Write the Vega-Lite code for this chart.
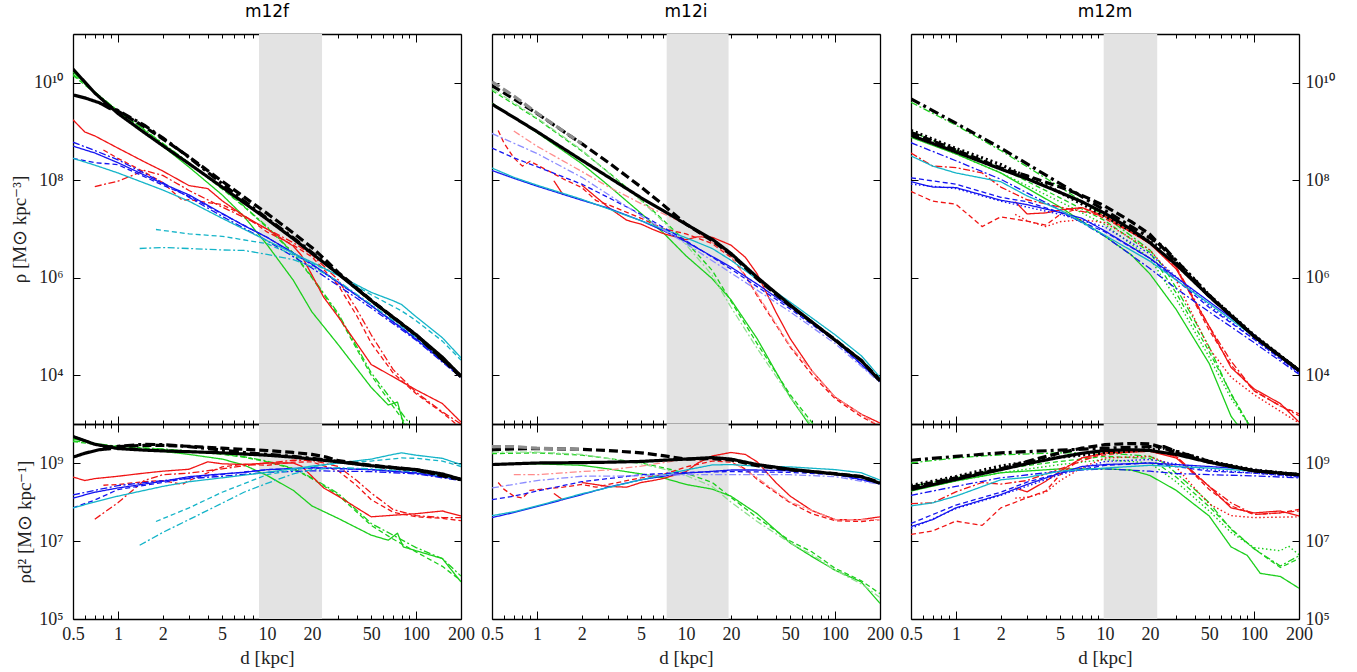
{
"$schema": "https://vega.github.io/schema/vega-lite/v6.json",
"padding": {"left": 10, "top": 2, "right": 5, "bottom": 5},
"background": "white",
"datasets": {
"bands": [{"p":"f","lo":8.84,"hi":23.4},{"p":"i","lo":7.42,"hi":19.3},{"p":"m","lo":9.8,"hi":22.4}],
"lines": [
{"p":"f","s":"g-","d":0.5,"r":10.22,"q":9.62},{"p":"f","s":"g-","d":0.7,"r":9.81,"q":9.50},{"p":"f","s":"g-","d":1,"r":9.40,"q":9.40},{"p":"f","s":"g-","d":1.5,"r":8.98,"q":9.33},{"p":"f","s":"g-","d":2,"r":8.70,"q":9.30},{"p":"f","s":"g-","d":3,"r":8.27,"q":9.22},{"p":"f","s":"g-","d":5,"r":7.70,"q":9.10},{"p":"f","s":"g-","d":7,"r":7.26,"q":8.95},{"p":"f","s":"g-","d":10,"r":6.68,"q":8.68},{"p":"f","s":"g-","d":15,"r":5.95,"q":8.30},{"p":"f","s":"g-","d":20,"r":5.30,"q":7.90},{"p":"f","s":"g-","d":30,"r":4.63,"q":7.58},{"p":"f","s":"g-","d":50,"r":3.75,"q":7.15},{"p":"f","s":"g-","d":65,"r":3.39,"q":7.02},{"p":"f","s":"g-","d":75,"r":3.45,"q":7.20},{"p":"f","s":"g-","d":82,"r":3.02,"q":6.85},{"p":"f","s":"g-","d":100,"r":2.75,"q":6.75},{"p":"f","s":"g-","d":150,"r":2.20,"q":6.55},{"p":"f","s":"g-","d":200,"r":1.35,"q":5.95},
{"p":"f","s":"g--","d":0.5,"r":10.15,"q":9.55},{"p":"f","s":"g--","d":0.7,"r":9.79,"q":9.48},{"p":"f","s":"g--","d":1,"r":9.42,"q":9.42},{"p":"f","s":"g--","d":1.5,"r":9.03,"q":9.38},{"p":"f","s":"g--","d":2,"r":8.75,"q":9.35},{"p":"f","s":"g--","d":3,"r":8.35,"q":9.30},{"p":"f","s":"g--","d":5,"r":7.82,"q":9.22},{"p":"f","s":"g--","d":7,"r":7.46,"q":9.15},{"p":"f","s":"g--","d":10,"r":7.03,"q":9.03},{"p":"f","s":"g--","d":15,"r":6.50,"q":8.85},{"p":"f","s":"g--","d":20,"r":6.00,"q":8.60},{"p":"f","s":"g--","d":30,"r":5.23,"q":8.18},{"p":"f","s":"g--","d":50,"r":4.00,"q":7.40},{"p":"f","s":"g--","d":70,"r":3.36,"q":7.05},{"p":"f","s":"g--","d":100,"r":2.72,"q":6.72},{"p":"f","s":"g--","d":150,"r":2.00,"q":6.35},{"p":"f","s":"g--","d":200,"r":1.38,"q":5.98},
{"p":"f","s":"g-.","d":0.5,"r":10.17,"q":9.57},{"p":"f","s":"g-.","d":0.7,"r":9.81,"q":9.50},{"p":"f","s":"g-.","d":1,"r":9.43,"q":9.43},{"p":"f","s":"g-.","d":1.5,"r":9.04,"q":9.39},{"p":"f","s":"g-.","d":2,"r":8.76,"q":9.36},{"p":"f","s":"g-.","d":3,"r":8.36,"q":9.31},{"p":"f","s":"g-.","d":5,"r":7.84,"q":9.24},{"p":"f","s":"g-.","d":7,"r":7.47,"q":9.16},{"p":"f","s":"g-.","d":10,"r":7.05,"q":9.05},{"p":"f","s":"g-.","d":15,"r":6.51,"q":8.86},{"p":"f","s":"g-.","d":20,"r":6.02,"q":8.62},{"p":"f","s":"g-.","d":30,"r":5.27,"q":8.22},{"p":"f","s":"g-.","d":50,"r":4.05,"q":7.45},{"p":"f","s":"g-.","d":70,"r":3.46,"q":7.15},{"p":"f","s":"g-.","d":100,"r":2.83,"q":6.83},{"p":"f","s":"g-.","d":150,"r":2.20,"q":6.55},{"p":"f","s":"g-.","d":200,"r":1.50,"q":6.10},
{"p":"f","s":"r-","d":0.5,"r":9.24,"q":8.64},{"p":"f","s":"r-","d":0.6,"r":8.99,"q":8.55},{"p":"f","s":"r-","d":0.7,"r":8.91,"q":8.60},{"p":"f","s":"r-","d":1,"r":8.66,"q":8.66},{"p":"f","s":"r-","d":1.5,"r":8.38,"q":8.74},{"p":"f","s":"r-","d":2,"r":8.19,"q":8.79},{"p":"f","s":"r-","d":3,"r":7.89,"q":8.84},{"p":"f","s":"r-","d":4,"r":7.83,"q":9.03},{"p":"f","s":"r-","d":5,"r":7.58,"q":8.98},{"p":"f","s":"r-","d":7,"r":7.27,"q":8.96},{"p":"f","s":"r-","d":10,"r":7.00,"q":9.00},{"p":"f","s":"r-","d":15,"r":6.65,"q":9.00},{"p":"f","s":"r-","d":17,"r":6.46,"q":8.92},{"p":"f","s":"r-","d":20,"r":6.06,"q":8.66},{"p":"f","s":"r-","d":24,"r":5.60,"q":8.36},{"p":"f","s":"r-","d":30,"r":5.20,"q":8.15},{"p":"f","s":"r-","d":40,"r":4.65,"q":7.85},{"p":"f","s":"r-","d":50,"r":4.22,"q":7.62},{"p":"f","s":"r-","d":70,"r":3.97,"q":7.66},{"p":"f","s":"r-","d":100,"r":3.70,"q":7.70},{"p":"f","s":"r-","d":150,"r":3.42,"q":7.77},{"p":"f","s":"r-","d":200,"r":3.04,"q":7.64},
{"p":"f","s":"r--","d":0.8,"r":8.62,"q":8.43},{"p":"f","s":"r--","d":1,"r":8.45,"q":8.45},{"p":"f","s":"r--","d":1.5,"r":8.17,"q":8.52},{"p":"f","s":"r--","d":2,"r":7.95,"q":8.55},{"p":"f","s":"r--","d":2.7,"r":7.59,"q":8.45},{"p":"f","s":"r--","d":3,"r":7.60,"q":8.55},{"p":"f","s":"r--","d":5,"r":7.50,"q":8.90},{"p":"f","s":"r--","d":7,"r":7.28,"q":8.97},{"p":"f","s":"r--","d":10,"r":6.94,"q":8.94},{"p":"f","s":"r--","d":15,"r":6.67,"q":9.02},{"p":"f","s":"r--","d":20,"r":6.43,"q":9.03},{"p":"f","s":"r--","d":30,"r":5.85,"q":8.80},{"p":"f","s":"r--","d":40,"r":5.22,"q":8.42},{"p":"f","s":"r--","d":50,"r":4.66,"q":8.06},{"p":"f","s":"r--","d":70,"r":4.05,"q":7.74},{"p":"f","s":"r--","d":100,"r":3.62,"q":7.62},{"p":"f","s":"r--","d":150,"r":3.23,"q":7.58},{"p":"f","s":"r--","d":200,"r":2.92,"q":7.52},
{"p":"f","s":"r-.","d":0.7,"r":7.87,"q":7.56},{"p":"f","s":"r-.","d":1,"r":7.98,"q":7.98},{"p":"f","s":"r-.","d":1.3,"r":8.12,"q":8.35},{"p":"f","s":"r-.","d":1.5,"r":8.20,"q":8.55},{"p":"f","s":"r-.","d":2,"r":8.10,"q":8.70},{"p":"f","s":"r-.","d":3,"r":7.79,"q":8.74},{"p":"f","s":"r-.","d":5,"r":7.45,"q":8.85},{"p":"f","s":"r-.","d":7,"r":7.24,"q":8.93},{"p":"f","s":"r-.","d":10,"r":7.00,"q":9.00},{"p":"f","s":"r-.","d":15,"r":6.72,"q":9.07},{"p":"f","s":"r-.","d":20,"r":6.47,"q":9.07},{"p":"f","s":"r-.","d":30,"r":5.96,"q":8.91},{"p":"f","s":"r-.","d":40,"r":5.35,"q":8.55},{"p":"f","s":"r-.","d":50,"r":4.83,"q":8.23},{"p":"f","s":"r-.","d":70,"r":4.12,"q":7.81},{"p":"f","s":"r-.","d":100,"r":3.65,"q":7.65},{"p":"f","s":"r-.","d":150,"r":3.25,"q":7.60},{"p":"f","s":"r-.","d":200,"r":3.00,"q":7.60},
{"p":"f","s":"b-","d":0.5,"r":8.70,"q":8.10},{"p":"f","s":"b-","d":0.7,"r":8.56,"q":8.25},{"p":"f","s":"b-","d":1,"r":8.36,"q":8.36},{"p":"f","s":"b-","d":2,"r":7.93,"q":8.53},{"p":"f","s":"b-","d":3,"r":7.70,"q":8.65},{"p":"f","s":"b-","d":5,"r":7.32,"q":8.72},{"p":"f","s":"b-","d":7,"r":7.07,"q":8.76},{"p":"f","s":"b-","d":10,"r":6.83,"q":8.83},{"p":"f","s":"b-","d":15,"r":6.51,"q":8.86},{"p":"f","s":"b-","d":20,"r":6.28,"q":8.88},{"p":"f","s":"b-","d":30,"r":5.91,"q":8.86},{"p":"f","s":"b-","d":50,"r":5.43,"q":8.83},{"p":"f","s":"b-","d":100,"r":4.74,"q":8.74},{"p":"f","s":"b-","d":200,"r":3.97,"q":8.57},
{"p":"f","s":"b--","d":0.5,"r":8.45,"q":7.85},{"p":"f","s":"b--","d":0.7,"r":8.36,"q":8.05},{"p":"f","s":"b--","d":1,"r":8.32,"q":8.32},{"p":"f","s":"b--","d":2,"r":7.90,"q":8.50},{"p":"f","s":"b--","d":3,"r":7.67,"q":8.62},{"p":"f","s":"b--","d":5,"r":7.31,"q":8.71},{"p":"f","s":"b--","d":10,"r":6.83,"q":8.83},{"p":"f","s":"b--","d":20,"r":6.27,"q":8.87},{"p":"f","s":"b--","d":50,"r":5.43,"q":8.83},{"p":"f","s":"b--","d":100,"r":4.76,"q":8.76},{"p":"f","s":"b--","d":200,"r":3.99,"q":8.59},
{"p":"f","s":"b-.","d":0.5,"r":8.78,"q":8.18},{"p":"f","s":"b-.","d":0.7,"r":8.61,"q":8.30},{"p":"f","s":"b-.","d":1,"r":8.42,"q":8.42},{"p":"f","s":"b-.","d":2,"r":7.95,"q":8.55},{"p":"f","s":"b-.","d":3,"r":7.65,"q":8.60},{"p":"f","s":"b-.","d":5,"r":7.26,"q":8.66},{"p":"f","s":"b-.","d":10,"r":6.76,"q":8.76},{"p":"f","s":"b-.","d":20,"r":6.20,"q":8.80},{"p":"f","s":"b-.","d":50,"r":5.38,"q":8.78},{"p":"f","s":"b-.","d":100,"r":4.72,"q":8.72},{"p":"f","s":"b-.","d":200,"r":3.95,"q":8.55},
{"p":"f","s":"c-","d":0.5,"r":8.45,"q":7.85},{"p":"f","s":"c-","d":0.7,"r":8.31,"q":8.00},{"p":"f","s":"c-","d":1,"r":8.15,"q":8.15},{"p":"f","s":"c-","d":2,"r":7.80,"q":8.40},{"p":"f","s":"c-","d":3,"r":7.57,"q":8.52},{"p":"f","s":"c-","d":5,"r":7.22,"q":8.62},{"p":"f","s":"c-","d":10,"r":6.76,"q":8.76},{"p":"f","s":"c-","d":20,"r":6.32,"q":8.92},{"p":"f","s":"c-","d":30,"r":6.05,"q":9.00},{"p":"f","s":"c-","d":50,"r":5.70,"q":9.10},{"p":"f","s":"c-","d":70,"r":5.53,"q":9.22},{"p":"f","s":"c-","d":80,"r":5.45,"q":9.26},{"p":"f","s":"c-","d":100,"r":5.20,"q":9.20},{"p":"f","s":"c-","d":150,"r":4.77,"q":9.12},{"p":"f","s":"c-","d":200,"r":4.36,"q":8.96},
{"p":"f","s":"c--","d":1.8,"r":6.99,"q":7.50},{"p":"f","s":"c--","d":3,"r":6.90,"q":7.85},{"p":"f","s":"c--","d":5,"r":6.85,"q":8.25},{"p":"f","s":"c--","d":10,"r":6.70,"q":8.70},{"p":"f","s":"c--","d":20,"r":6.30,"q":8.90},{"p":"f","s":"c--","d":30,"r":6.05,"q":9.00},{"p":"f","s":"c--","d":50,"r":5.65,"q":9.05},{"p":"f","s":"c--","d":80,"r":5.32,"q":9.13},{"p":"f","s":"c--","d":100,"r":5.12,"q":9.12},{"p":"f","s":"c--","d":150,"r":4.70,"q":9.05},{"p":"f","s":"c--","d":200,"r":4.31,"q":8.91},
{"p":"f","s":"c-.","d":1.4,"r":6.60,"q":6.89},{"p":"f","s":"c-.","d":2,"r":6.62,"q":7.22},{"p":"f","s":"c-.","d":3,"r":6.60,"q":7.55},{"p":"f","s":"c-.","d":5,"r":6.57,"q":7.97},{"p":"f","s":"c-.","d":7,"r":6.56,"q":8.25},{"p":"f","s":"c-.","d":10,"r":6.48,"q":8.48},{"p":"f","s":"c-.","d":15,"r":6.37,"q":8.72},{"p":"f","s":"c-.","d":20,"r":6.23,"q":8.83},{"p":"f","s":"c-.","d":30,"r":5.93,"q":8.88},{"p":"f","s":"c-.","d":50,"r":5.45,"q":8.85},{"p":"f","s":"c-.","d":100,"r":4.78,"q":8.78},{"p":"f","s":"c-.","d":200,"r":3.98,"q":8.58},
{"p":"f","s":"k-","d":0.5,"r":10.28,"q":9.68},{"p":"f","s":"k-","d":0.7,"r":9.79,"q":9.48},{"p":"f","s":"k-","d":1,"r":9.37,"q":9.37},{"p":"f","s":"k-","d":1.5,"r":8.98,"q":9.33},{"p":"f","s":"k-","d":2,"r":8.71,"q":9.31},{"p":"f","s":"k-","d":3,"r":8.34,"q":9.29},{"p":"f","s":"k-","d":5,"r":7.86,"q":9.26},{"p":"f","s":"k-","d":7,"r":7.54,"q":9.23},{"p":"f","s":"k-","d":10,"r":7.20,"q":9.20},{"p":"f","s":"k-","d":15,"r":6.80,"q":9.15},{"p":"f","s":"k-","d":20,"r":6.50,"q":9.10},{"p":"f","s":"k-","d":30,"r":6.08,"q":9.03},{"p":"f","s":"k-","d":50,"r":5.53,"q":8.93},{"p":"f","s":"k-","d":70,"r":5.19,"q":8.88},{"p":"f","s":"k-","d":100,"r":4.83,"q":8.83},{"p":"f","s":"k-","d":150,"r":4.37,"q":8.72},{"p":"f","s":"k-","d":200,"r":3.98,"q":8.58},
{"p":"f","s":"k2","d":0.5,"r":9.75,"q":9.15},{"p":"f","s":"k2","d":0.6,"r":9.69,"q":9.25},{"p":"f","s":"k2","d":0.75,"r":9.59,"q":9.34},{"p":"f","s":"k2","d":0.9,"r":9.46,"q":9.37},
{"p":"f","s":"k--","d":0.8,"r":9.59,"q":9.40},{"p":"f","s":"k--","d":1,"r":9.42,"q":9.42},{"p":"f","s":"k--","d":1.5,"r":9.10,"q":9.45},{"p":"f","s":"k--","d":2,"r":8.85,"q":9.45},{"p":"f","s":"k--","d":3,"r":8.48,"q":9.43},{"p":"f","s":"k--","d":5,"r":7.98,"q":9.38},{"p":"f","s":"k--","d":7,"r":7.66,"q":9.35},{"p":"f","s":"k--","d":10,"r":7.32,"q":9.32},{"p":"f","s":"k--","d":15,"r":6.92,"q":9.27},{"p":"f","s":"k--","d":20,"r":6.62,"q":9.22},{"p":"f","s":"k--","d":25,"r":6.35,"q":9.15},{"p":"f","s":"k--","d":30,"r":6.11,"q":9.06},{"p":"f","s":"k--","d":50,"r":5.54,"q":8.94},{"p":"f","s":"k--","d":100,"r":4.83,"q":8.83},{"p":"f","s":"k--","d":200,"r":3.98,"q":8.58},
{"p":"f","s":"k-.","d":0.8,"r":9.57,"q":9.38},{"p":"f","s":"k-.","d":1,"r":9.43,"q":9.43},{"p":"f","s":"k-.","d":1.5,"r":9.13,"q":9.48},{"p":"f","s":"k-.","d":2,"r":8.87,"q":9.47},{"p":"f","s":"k-.","d":3,"r":8.47,"q":9.42},{"p":"f","s":"k-.","d":5,"r":7.93,"q":9.33},{"p":"f","s":"k-.","d":7,"r":7.58,"q":9.27},{"p":"f","s":"k-.","d":10,"r":7.22,"q":9.22},{"p":"f","s":"k-.","d":15,"r":6.82,"q":9.17},{"p":"f","s":"k-.","d":20,"r":6.52,"q":9.12},{"p":"f","s":"k-.","d":30,"r":6.09,"q":9.04},{"p":"f","s":"k-.","d":50,"r":5.53,"q":8.93},{"p":"f","s":"k-.","d":100,"r":4.82,"q":8.82},{"p":"f","s":"k-.","d":200,"r":3.97,"q":8.57},

{"p":"i","s":"g-","d":0.5,"r":9.58,"q":8.98},{"p":"i","s":"g-","d":0.7,"r":9.29,"q":8.98},{"p":"i","s":"g-","d":1,"r":8.98,"q":8.98},{"p":"i","s":"g-","d":2,"r":8.34,"q":8.94},{"p":"i","s":"g-","d":3,"r":7.90,"q":8.85},{"p":"i","s":"g-","d":5,"r":7.32,"q":8.72},{"p":"i","s":"g-","d":7,"r":6.93,"q":8.62},{"p":"i","s":"g-","d":10,"r":6.45,"q":8.45},{"p":"i","s":"g-","d":15,"r":5.98,"q":8.33},{"p":"i","s":"g-","d":20,"r":5.55,"q":8.15},{"p":"i","s":"g-","d":30,"r":4.75,"q":7.70},{"p":"i","s":"g-","d":50,"r":3.55,"q":6.95},{"p":"i","s":"g-","d":70,"r":2.91,"q":6.60},{"p":"i","s":"g-","d":100,"r":2.25,"q":6.25},{"p":"i","s":"g-","d":150,"r":1.60,"q":5.95},{"p":"i","s":"g-","d":200,"r":0.80,"q":5.40},
{"p":"i","s":"g--","d":0.5,"r":9.84,"q":9.24},{"p":"i","s":"g--","d":0.7,"r":9.56,"q":9.25},{"p":"i","s":"g--","d":1,"r":9.26,"q":9.26},{"p":"i","s":"g--","d":2,"r":8.60,"q":9.20},{"p":"i","s":"g--","d":3,"r":8.17,"q":9.12},{"p":"i","s":"g--","d":5,"r":7.60,"q":9.00},{"p":"i","s":"g--","d":7,"r":7.19,"q":8.88},{"p":"i","s":"g--","d":10,"r":6.74,"q":8.74},{"p":"i","s":"g--","d":15,"r":6.15,"q":8.50},{"p":"i","s":"g--","d":20,"r":5.52,"q":8.12},{"p":"i","s":"g--","d":30,"r":4.65,"q":7.60},{"p":"i","s":"g--","d":50,"r":3.60,"q":7.00},{"p":"i","s":"g--","d":70,"r":3.03,"q":6.72},{"p":"i","s":"g--","d":100,"r":2.30,"q":6.30},{"p":"i","s":"g--","d":150,"r":1.63,"q":5.98},{"p":"i","s":"g--","d":200,"r":1.05,"q":5.65},
{"p":"i","s":"lg-.","d":0.5,"r":9.88,"q":9.28},{"p":"i","s":"lg-.","d":1,"r":9.28,"q":9.28},{"p":"i","s":"lg-.","d":2,"r":8.62,"q":9.22},{"p":"i","s":"lg-.","d":5,"r":7.58,"q":8.98},{"p":"i","s":"lg-.","d":7,"r":7.16,"q":8.85},{"p":"i","s":"lg-.","d":10,"r":6.68,"q":8.68},{"p":"i","s":"lg-.","d":15,"r":6.05,"q":8.40},{"p":"i","s":"lg-.","d":20,"r":5.40,"q":8.00},{"p":"i","s":"lg-.","d":30,"r":4.55,"q":7.50},{"p":"i","s":"lg-.","d":50,"r":3.55,"q":6.95},{"p":"i","s":"lg-.","d":70,"r":2.96,"q":6.65},{"p":"i","s":"lg-.","d":100,"r":2.25,"q":6.25},{"p":"i","s":"lg-.","d":150,"r":1.55,"q":5.90},{"p":"i","s":"lg-.","d":200,"r":0.95,"q":5.55},
{"p":"i","s":"r-","d":2,"r":7.90,"q":8.50},{"p":"i","s":"r-","d":3,"r":7.45,"q":8.40},{"p":"i","s":"r-","d":4,"r":7.18,"q":8.38},{"p":"i","s":"r-","d":5,"r":7.10,"q":8.50},{"p":"i","s":"r-","d":6,"r":6.99,"q":8.55},{"p":"i","s":"r-","d":7,"r":6.91,"q":8.60},{"p":"i","s":"r-","d":10,"r":6.78,"q":8.78},{"p":"i","s":"r-","d":12,"r":6.84,"q":9.00},{"p":"i","s":"r-","d":15,"r":6.83,"q":9.18},{"p":"i","s":"r-","d":20,"r":6.67,"q":9.27},{"p":"i","s":"r-","d":25,"r":6.42,"q":9.22},{"p":"i","s":"r-","d":30,"r":6.08,"q":9.03},{"p":"i","s":"r-","d":40,"r":5.30,"q":8.50},{"p":"i","s":"r-","d":50,"r":4.75,"q":8.15},{"p":"i","s":"r-","d":70,"r":4.09,"q":7.78},{"p":"i","s":"r-","d":100,"r":3.55,"q":7.55},{"p":"i","s":"r-","d":150,"r":3.20,"q":7.55},{"p":"i","s":"r-","d":200,"r":3.02,"q":7.62},
{"p":"i","s":"r2","d":1.3,"r":7.99,"q":8.22},{"p":"i","s":"r2","d":1.5,"r":7.70,"q":8.05},
{"p":"i","s":"r--","d":0.55,"r":9.02,"q":8.50},{"p":"i","s":"r--","d":0.6,"r":8.77,"q":8.33},{"p":"i","s":"r--","d":0.7,"r":8.46,"q":8.15},{"p":"i","s":"r--","d":0.8,"r":8.29,"q":8.10},{"p":"i","s":"r--","d":0.9,"r":8.39,"q":8.30},{"p":"i","s":"r--","d":1.1,"r":8.25,"q":8.33},{"p":"i","s":"r--","d":1.5,"r":8.03,"q":8.38},{"p":"i","s":"r--","d":2,"r":7.85,"q":8.45},{"p":"i","s":"r--","d":2.5,"r":7.58,"q":8.38},{"p":"i","s":"r--","d":3,"r":7.50,"q":8.45},{"p":"i","s":"r--","d":5,"r":7.22,"q":8.62},{"p":"i","s":"r--","d":7,"r":7.01,"q":8.70},{"p":"i","s":"r--","d":10,"r":6.90,"q":8.90},{"p":"i","s":"r--","d":15,"r":6.70,"q":9.05},{"p":"i","s":"r--","d":20,"r":6.42,"q":9.02},{"p":"i","s":"r--","d":25,"r":6.05,"q":8.85},{"p":"i","s":"r--","d":30,"r":5.63,"q":8.58},{"p":"i","s":"r--","d":50,"r":4.58,"q":7.98},{"p":"i","s":"r--","d":70,"r":4.01,"q":7.70},{"p":"i","s":"r--","d":100,"r":3.52,"q":7.52},{"p":"i","s":"r--","d":150,"r":3.15,"q":7.50},{"p":"i","s":"r--","d":200,"r":2.95,"q":7.55},
{"p":"i","s":"lr-.","d":0.7,"r":9.01,"q":8.70},{"p":"i","s":"lr-.","d":1,"r":8.70,"q":8.70},{"p":"i","s":"lr-.","d":2,"r":8.18,"q":8.78},{"p":"i","s":"lr-.","d":3,"r":7.87,"q":8.82},{"p":"i","s":"lr-.","d":5,"r":7.52,"q":8.92},{"p":"i","s":"lr-.","d":10,"r":7.10,"q":9.10},{"p":"i","s":"lr-.","d":20,"r":6.45,"q":9.05},{"p":"i","s":"lr-.","d":30,"r":5.67,"q":8.62},{"p":"i","s":"lr-.","d":50,"r":4.60,"q":8.00},{"p":"i","s":"lr-.","d":100,"r":3.55,"q":7.55},{"p":"i","s":"lr-.","d":200,"r":2.95,"q":7.55},
{"p":"i","s":"b-","d":0.5,"r":8.20,"q":7.60},{"p":"i","s":"b-","d":0.7,"r":8.04,"q":7.73},{"p":"i","s":"b-","d":1,"r":7.88,"q":7.88},{"p":"i","s":"b-","d":2,"r":7.59,"q":8.19},{"p":"i","s":"b-","d":3,"r":7.43,"q":8.38},{"p":"i","s":"b-","d":5,"r":7.17,"q":8.57},{"p":"i","s":"b-","d":7,"r":6.97,"q":8.66},{"p":"i","s":"b-","d":10,"r":6.74,"q":8.74},{"p":"i","s":"b-","d":20,"r":6.22,"q":8.82},{"p":"i","s":"b-","d":30,"r":5.87,"q":8.82},{"p":"i","s":"b-","d":50,"r":5.40,"q":8.80},{"p":"i","s":"b-","d":100,"r":4.72,"q":8.72},{"p":"i","s":"b-","d":200,"r":3.87,"q":8.47},
{"p":"i","s":"c-","d":0.5,"r":8.25,"q":7.65},{"p":"i","s":"c-","d":0.7,"r":8.06,"q":7.75},{"p":"i","s":"c-","d":1,"r":7.90,"q":7.90},{"p":"i","s":"c-","d":2,"r":7.61,"q":8.21},{"p":"i","s":"c-","d":5,"r":7.17,"q":8.57},{"p":"i","s":"c-","d":10,"r":6.82,"q":8.82},{"p":"i","s":"c-","d":15,"r":6.60,"q":8.95},{"p":"i","s":"c-","d":20,"r":6.36,"q":8.96},{"p":"i","s":"c-","d":30,"r":5.97,"q":8.92},{"p":"i","s":"c-","d":50,"r":5.50,"q":8.90},{"p":"i","s":"c-","d":100,"r":4.83,"q":8.83},{"p":"i","s":"c-","d":150,"r":4.40,"q":8.75},{"p":"i","s":"c-","d":200,"r":3.96,"q":8.56},
{"p":"i","s":"b--","d":0.5,"r":8.66,"q":8.06},{"p":"i","s":"b--","d":0.7,"r":8.46,"q":8.15},{"p":"i","s":"b--","d":1,"r":8.28,"q":8.28},{"p":"i","s":"b--","d":2,"r":7.92,"q":8.52},{"p":"i","s":"b--","d":3,"r":7.65,"q":8.60},{"p":"i","s":"b--","d":5,"r":7.30,"q":8.70},{"p":"i","s":"b--","d":10,"r":6.76,"q":8.76},{"p":"i","s":"b--","d":20,"r":6.18,"q":8.78},{"p":"i","s":"b--","d":50,"r":5.36,"q":8.76},{"p":"i","s":"b--","d":100,"r":4.70,"q":8.70},{"p":"i","s":"b--","d":200,"r":3.87,"q":8.47},
{"p":"i","s":"lb-.","d":0.5,"r":8.96,"q":8.36},{"p":"i","s":"lb-.","d":1,"r":8.55,"q":8.55},{"p":"i","s":"lb-.","d":2,"r":8.06,"q":8.66},{"p":"i","s":"lb-.","d":5,"r":7.27,"q":8.67},{"p":"i","s":"lb-.","d":10,"r":6.70,"q":8.70},{"p":"i","s":"lb-.","d":20,"r":6.10,"q":8.70},{"p":"i","s":"lb-.","d":50,"r":5.30,"q":8.70},{"p":"i","s":"lb-.","d":100,"r":4.65,"q":8.65},{"p":"i","s":"lb-.","d":200,"r":3.85,"q":8.45},
{"p":"i","s":"k--","d":0.5,"r":9.94,"q":9.34},{"p":"i","s":"k--","d":0.7,"r":9.67,"q":9.36},{"p":"i","s":"k--","d":1,"r":9.37,"q":9.37},{"p":"i","s":"k--","d":2,"r":8.75,"q":9.35},{"p":"i","s":"k--","d":3,"r":8.37,"q":9.32},{"p":"i","s":"k--","d":5,"r":7.86,"q":9.26},{"p":"i","s":"k--","d":7,"r":7.50,"q":9.19},{"p":"i","s":"k--","d":10,"r":7.10,"q":9.10},{"p":"i","s":"k--","d":15,"r":6.76,"q":9.11},{"p":"i","s":"k--","d":20,"r":6.48,"q":9.08},{"p":"i","s":"k--","d":30,"r":5.98,"q":8.93},{"p":"i","s":"k--","d":50,"r":5.42,"q":8.82},{"p":"i","s":"k--","d":100,"r":4.73,"q":8.73},{"p":"i","s":"k--","d":150,"r":4.30,"q":8.65},{"p":"i","s":"k--","d":200,"r":3.90,"q":8.50},
{"p":"i","s":"k-","d":0.5,"r":9.56,"q":8.96},{"p":"i","s":"k-","d":0.7,"r":9.29,"q":8.98},{"p":"i","s":"k-","d":1,"r":9.00,"q":9.00},{"p":"i","s":"k-","d":2,"r":8.41,"q":9.01},{"p":"i","s":"k-","d":3,"r":8.07,"q":9.02},{"p":"i","s":"k-","d":5,"r":7.64,"q":9.04},{"p":"i","s":"k-","d":7,"r":7.38,"q":9.07},{"p":"i","s":"k-","d":10,"r":7.10,"q":9.10},{"p":"i","s":"k-","d":15,"r":6.79,"q":9.14},{"p":"i","s":"k-","d":20,"r":6.50,"q":9.10},{"p":"i","s":"k-","d":30,"r":6.01,"q":8.96},{"p":"i","s":"k-","d":50,"r":5.44,"q":8.84},{"p":"i","s":"k-","d":100,"r":4.72,"q":8.72},{"p":"i","s":"k-","d":150,"r":4.30,"q":8.65},{"p":"i","s":"k-","d":200,"r":3.88,"q":8.48},
{"p":"i","s":"gr--","d":0.5,"r":10.02,"q":9.42},{"p":"i","s":"gr--","d":0.7,"r":9.73,"q":9.42},{"p":"i","s":"gr--","d":1,"r":9.38,"q":9.38},{"p":"i","s":"gr--","d":1.5,"r":9.01,"q":9.36},{"p":"i","s":"gr--","d":2,"r":8.75,"q":9.35},

{"p":"m","s":"g-.","d":0.5,"r":9.60,"q":9.00},{"p":"m","s":"g-.","d":1,"r":9.13,"q":9.13},{"p":"m","s":"g-.","d":2,"r":8.61,"q":9.21},{"p":"m","s":"g-.","d":5,"r":7.86,"q":9.26},{"p":"m","s":"g-.","d":10,"r":7.26,"q":9.26},{"p":"m","s":"g-.","d":20,"r":6.57,"q":9.17},{"p":"m","s":"g-.","d":25,"r":6.20,"q":9.00},{"p":"m","s":"g-.","d":30,"r":5.79,"q":8.74},{"p":"m","s":"g-.","d":40,"r":5.12,"q":8.32},{"p":"m","s":"g-.","d":50,"r":4.58,"q":7.98},{"p":"m","s":"g-.","d":70,"r":3.61,"q":7.30},{"p":"m","s":"g-.","d":100,"r":2.80,"q":6.80},{"p":"m","s":"g-.","d":150,"r":2.01,"q":6.36},{"p":"m","s":"g-.","d":200,"r":2.02,"q":6.62},
{"p":"m","s":"g-","d":0.5,"r":8.88,"q":8.28},{"p":"m","s":"g-","d":1,"r":8.54,"q":8.54},{"p":"m","s":"g-","d":2,"r":8.15,"q":8.75},{"p":"m","s":"g-","d":5,"r":7.45,"q":8.85},{"p":"m","s":"g-","d":10,"r":6.85,"q":8.85},{"p":"m","s":"g-","d":15,"r":6.47,"q":8.82},{"p":"m","s":"g-","d":20,"r":6.08,"q":8.68},{"p":"m","s":"g-","d":30,"r":5.35,"q":8.30},{"p":"m","s":"g-","d":50,"r":4.24,"q":7.64},{"p":"m","s":"g-","d":70,"r":3.16,"q":6.85},{"p":"m","s":"g-","d":90,"r":2.72,"q":6.63},{"p":"m","s":"g-","d":110,"r":2.09,"q":6.17},{"p":"m","s":"g-","d":150,"r":1.74,"q":6.09},{"p":"m","s":"g-","d":200,"r":1.19,"q":5.79},
{"p":"m","s":"g--","d":0.5,"r":9.00,"q":8.40},{"p":"m","s":"g--","d":1,"r":8.62,"q":8.62},{"p":"m","s":"g--","d":2,"r":8.25,"q":8.85},{"p":"m","s":"g--","d":5,"r":7.64,"q":9.04},{"p":"m","s":"g--","d":10,"r":7.17,"q":9.17},{"p":"m","s":"g--","d":20,"r":6.52,"q":9.12},{"p":"m","s":"g--","d":30,"r":5.69,"q":8.64},{"p":"m","s":"g--","d":50,"r":4.48,"q":7.88},{"p":"m","s":"g--","d":70,"r":3.63,"q":7.32},{"p":"m","s":"g--","d":100,"r":2.80,"q":6.80},{"p":"m","s":"g--","d":150,"r":1.97,"q":6.32},{"p":"m","s":"g--","d":200,"r":1.95,"q":6.55},
{"p":"m","s":"g:","d":0.5,"r":8.92,"q":8.32},{"p":"m","s":"g:","d":1,"r":8.54,"q":8.54},{"p":"m","s":"g:","d":2,"r":8.15,"q":8.75},{"p":"m","s":"g:","d":5,"r":7.56,"q":8.96},{"p":"m","s":"g:","d":10,"r":7.09,"q":9.09},{"p":"m","s":"g:","d":20,"r":6.40,"q":9.00},{"p":"m","s":"g:","d":30,"r":5.57,"q":8.52},{"p":"m","s":"g:","d":50,"r":4.37,"q":7.77},{"p":"m","s":"g:","d":70,"r":3.53,"q":7.22},{"p":"m","s":"g:","d":100,"r":2.83,"q":6.83},{"p":"m","s":"g:","d":150,"r":2.40,"q":6.75},{"p":"m","s":"g:","d":170,"r":2.41,"q":6.87},{"p":"m","s":"g:","d":200,"r":2.05,"q":6.65},
{"p":"m","s":"r-.","d":0.5,"r":8.56,"q":7.96},{"p":"m","s":"r-.","d":0.7,"r":8.29,"q":7.98},{"p":"m","s":"r-.","d":1,"r":8.26,"q":8.26},{"p":"m","s":"r-.","d":1.5,"r":8.15,"q":8.50},{"p":"m","s":"r-.","d":2,"r":7.86,"q":8.46},{"p":"m","s":"r-.","d":3,"r":7.60,"q":8.55},{"p":"m","s":"r-.","d":5,"r":7.45,"q":8.85},{"p":"m","s":"r-.","d":7,"r":7.36,"q":9.05},{"p":"m","s":"r-.","d":10,"r":7.26,"q":9.26},{"p":"m","s":"r-.","d":20,"r":6.70,"q":9.30},{"p":"m","s":"r-.","d":30,"r":6.22,"q":9.17},{"p":"m","s":"r-.","d":40,"r":5.54,"q":8.74},{"p":"m","s":"r-.","d":50,"r":5.00,"q":8.40},{"p":"m","s":"r-.","d":70,"r":4.29,"q":7.98},{"p":"m","s":"r-.","d":100,"r":3.68,"q":7.68},{"p":"m","s":"r-.","d":150,"r":3.37,"q":7.72},{"p":"m","s":"r-.","d":200,"r":3.17,"q":7.77},
{"p":"m","s":"r-","d":2.5,"r":7.56,"q":8.36},{"p":"m","s":"r-","d":3,"r":7.31,"q":8.26},{"p":"m","s":"r-","d":4,"r":7.33,"q":8.53},{"p":"m","s":"r-","d":5,"r":7.39,"q":8.79},{"p":"m","s":"r-","d":7,"r":7.44,"q":9.13},{"p":"m","s":"r-","d":10,"r":7.26,"q":9.26},{"p":"m","s":"r-","d":20,"r":6.70,"q":9.30},{"p":"m","s":"r-","d":30,"r":6.18,"q":9.13},{"p":"m","s":"r-","d":50,"r":5.00,"q":8.40},{"p":"m","s":"r-","d":70,"r":4.16,"q":7.85},{"p":"m","s":"r-","d":100,"r":3.72,"q":7.72},{"p":"m","s":"r-","d":150,"r":3.42,"q":7.77},{"p":"m","s":"r-","d":200,"r":3.04,"q":7.64},
{"p":"m","s":"r--","d":0.5,"r":7.77,"q":7.17},{"p":"m","s":"r--","d":0.7,"r":7.57,"q":7.26},{"p":"m","s":"r--","d":1,"r":7.51,"q":7.51},{"p":"m","s":"r--","d":1.5,"r":7.05,"q":7.40},{"p":"m","s":"r--","d":2,"r":7.25,"q":7.85},{"p":"m","s":"r--","d":3,"r":7.16,"q":8.11},{"p":"m","s":"r--","d":4,"r":7.08,"q":8.28},{"p":"m","s":"r--","d":5,"r":7.30,"q":8.70},{"p":"m","s":"r--","d":7,"r":7.44,"q":9.13},{"p":"m","s":"r--","d":10,"r":7.21,"q":9.21},{"p":"m","s":"r--","d":20,"r":6.74,"q":9.34},{"p":"m","s":"r--","d":30,"r":6.22,"q":9.17},{"p":"m","s":"r--","d":50,"r":4.92,"q":8.32},{"p":"m","s":"r--","d":70,"r":4.21,"q":7.90},{"p":"m","s":"r--","d":100,"r":3.68,"q":7.68},{"p":"m","s":"r--","d":150,"r":3.37,"q":7.72},{"p":"m","s":"r--","d":200,"r":3.21,"q":7.81},
{"p":"m","s":"r:","d":2.5,"r":7.30,"q":8.10},{"p":"m","s":"r:","d":3,"r":7.17,"q":8.12},{"p":"m","s":"r:","d":4,"r":7.05,"q":8.25},{"p":"m","s":"r:","d":5,"r":7.15,"q":8.55},{"p":"m","s":"r:","d":7,"r":7.19,"q":8.88},{"p":"m","s":"r:","d":10,"r":7.13,"q":9.13},{"p":"m","s":"r:","d":20,"r":6.57,"q":9.17},{"p":"m","s":"r:","d":30,"r":5.95,"q":8.90},{"p":"m","s":"r:","d":40,"r":5.15,"q":8.35},{"p":"m","s":"r:","d":50,"r":4.55,"q":7.95},{"p":"m","s":"r:","d":70,"r":3.96,"q":7.65},{"p":"m","s":"r:","d":100,"r":3.60,"q":7.60},{"p":"m","s":"r:","d":200,"r":3.02,"q":7.62},
{"p":"m","s":"b-","d":0.5,"r":7.97,"q":7.37},{"p":"m","s":"b-","d":0.7,"r":7.86,"q":7.55},{"p":"m","s":"b-","d":1,"r":7.85,"q":7.85},{"p":"m","s":"b-","d":2,"r":7.59,"q":8.19},{"p":"m","s":"b-","d":3,"r":7.50,"q":8.45},{"p":"m","s":"b-","d":5,"r":7.34,"q":8.74},{"p":"m","s":"b-","d":7,"r":7.22,"q":8.91},{"p":"m","s":"b-","d":10,"r":6.96,"q":8.96},{"p":"m","s":"b-","d":20,"r":6.40,"q":9.00},{"p":"m","s":"b-","d":30,"r":6.01,"q":8.96},{"p":"m","s":"b-","d":50,"r":5.51,"q":8.91},{"p":"m","s":"b-","d":100,"r":4.83,"q":8.83},{"p":"m","s":"b-","d":200,"r":4.06,"q":8.66},
{"p":"m","s":"b:","d":0.5,"r":7.92,"q":7.32},{"p":"m","s":"b:","d":1,"r":7.83,"q":7.83},{"p":"m","s":"b:","d":2,"r":7.57,"q":8.17},{"p":"m","s":"b:","d":5,"r":7.30,"q":8.70},{"p":"m","s":"b:","d":10,"r":7.04,"q":9.04},{"p":"m","s":"b:","d":20,"r":6.49,"q":9.09},{"p":"m","s":"b:","d":50,"r":5.43,"q":8.83},{"p":"m","s":"b:","d":100,"r":4.74,"q":8.74},{"p":"m","s":"b:","d":200,"r":4.04,"q":8.64},
{"p":"m","s":"b--","d":0.5,"r":8.05,"q":7.45},{"p":"m","s":"b--","d":1,"r":7.92,"q":7.92},{"p":"m","s":"b--","d":2,"r":7.65,"q":8.25},{"p":"m","s":"b--","d":3,"r":7.56,"q":8.51},{"p":"m","s":"b--","d":5,"r":7.34,"q":8.74},{"p":"m","s":"b--","d":10,"r":6.94,"q":8.94},{"p":"m","s":"b--","d":20,"r":6.40,"q":9.00},{"p":"m","s":"b--","d":30,"r":5.96,"q":8.91},{"p":"m","s":"b--","d":50,"r":5.39,"q":8.79},{"p":"m","s":"b--","d":100,"r":4.74,"q":8.74},{"p":"m","s":"b--","d":200,"r":4.06,"q":8.66},
{"p":"m","s":"b-.","d":0.5,"r":8.77,"q":8.17},{"p":"m","s":"b-.","d":1,"r":8.40,"q":8.40},{"p":"m","s":"b-.","d":2,"r":8.02,"q":8.62},{"p":"m","s":"b-.","d":5,"r":7.39,"q":8.79},{"p":"m","s":"b-.","d":10,"r":6.85,"q":8.85},{"p":"m","s":"b-.","d":20,"r":6.19,"q":8.79},{"p":"m","s":"b-.","d":30,"r":5.78,"q":8.73},{"p":"m","s":"b-.","d":50,"r":5.30,"q":8.70},{"p":"m","s":"b-.","d":100,"r":4.67,"q":8.67},{"p":"m","s":"b-.","d":200,"r":4.02,"q":8.62},
{"p":"m","s":"c-","d":0.5,"r":8.50,"q":7.90},{"p":"m","s":"c-","d":0.7,"r":8.29,"q":7.98},{"p":"m","s":"c-","d":1,"r":8.15,"q":8.15},{"p":"m","s":"c-","d":2,"r":7.97,"q":8.57},{"p":"m","s":"c-","d":3,"r":7.68,"q":8.63},{"p":"m","s":"c-","d":5,"r":7.39,"q":8.79},{"p":"m","s":"c-","d":10,"r":6.87,"q":8.87},{"p":"m","s":"c-","d":20,"r":6.34,"q":8.94},{"p":"m","s":"c-","d":50,"r":5.47,"q":8.87},{"p":"m","s":"c-","d":100,"r":4.79,"q":8.79},{"p":"m","s":"c-","d":200,"r":4.12,"q":8.72},
{"p":"m","s":"k-.","d":0.5,"r":9.67,"q":9.07},{"p":"m","s":"k-.","d":1,"r":9.17,"q":9.17},{"p":"m","s":"k-.","d":2,"r":8.66,"q":9.26},{"p":"m","s":"k-.","d":5,"r":7.93,"q":9.33},{"p":"m","s":"k-.","d":10,"r":7.38,"q":9.38},{"p":"m","s":"k-.","d":20,"r":6.82,"q":9.42},{"p":"m","s":"k-.","d":25,"r":6.62,"q":9.42},{"p":"m","s":"k-.","d":30,"r":6.35,"q":9.30},{"p":"m","s":"k-.","d":50,"r":5.64,"q":9.04},{"p":"m","s":"k-.","d":100,"r":4.80,"q":8.80},{"p":"m","s":"k-.","d":200,"r":4.10,"q":8.70},
{"p":"m","s":"k:","d":0.5,"r":9.02,"q":8.42},{"p":"m","s":"k:","d":1,"r":8.65,"q":8.65},{"p":"m","s":"k:","d":2,"r":8.32,"q":8.92},{"p":"m","s":"k:","d":5,"r":7.75,"q":9.15},{"p":"m","s":"k:","d":10,"r":7.27,"q":9.27},{"p":"m","s":"k:","d":20,"r":6.74,"q":9.34},{"p":"m","s":"k:","d":25,"r":6.58,"q":9.38},{"p":"m","s":"k:","d":30,"r":6.35,"q":9.30},{"p":"m","s":"k:","d":40,"r":5.96,"q":9.16},{"p":"m","s":"k:","d":50,"r":5.64,"q":9.04},{"p":"m","s":"k:","d":100,"r":4.82,"q":8.82},{"p":"m","s":"k:","d":200,"r":4.10,"q":8.70},
{"p":"m","s":"k--","d":0.5,"r":8.98,"q":8.38},{"p":"m","s":"k--","d":1,"r":8.62,"q":8.62},{"p":"m","s":"k--","d":2,"r":8.25,"q":8.85},{"p":"m","s":"k--","d":3,"r":8.09,"q":9.04},{"p":"m","s":"k--","d":5,"r":7.86,"q":9.26},{"p":"m","s":"k--","d":7,"r":7.69,"q":9.38},{"p":"m","s":"k--","d":10,"r":7.47,"q":9.47},{"p":"m","s":"k--","d":15,"r":7.15,"q":9.50},{"p":"m","s":"k--","d":20,"r":6.89,"q":9.49},{"p":"m","s":"k--","d":25,"r":6.58,"q":9.38},{"p":"m","s":"k--","d":30,"r":6.31,"q":9.26},{"p":"m","s":"k--","d":50,"r":5.62,"q":9.02},{"p":"m","s":"k--","d":100,"r":4.80,"q":8.80},{"p":"m","s":"k--","d":200,"r":4.10,"q":8.70},
{"p":"m","s":"k-","d":0.5,"r":8.92,"q":8.32},{"p":"m","s":"k-","d":1,"r":8.58,"q":8.58},{"p":"m","s":"k-","d":2,"r":8.23,"q":8.83},{"p":"m","s":"k-","d":3,"r":8.03,"q":8.98},{"p":"m","s":"k-","d":5,"r":7.75,"q":9.15},{"p":"m","s":"k-","d":7,"r":7.56,"q":9.25},{"p":"m","s":"k-","d":10,"r":7.32,"q":9.32},{"p":"m","s":"k-","d":15,"r":6.99,"q":9.34},{"p":"m","s":"k-","d":20,"r":6.72,"q":9.32},{"p":"m","s":"k-","d":30,"r":6.27,"q":9.22},{"p":"m","s":"k-","d":50,"r":5.62,"q":9.02},{"p":"m","s":"k-","d":100,"r":4.80,"q":8.80},{"p":"m","s":"k-","d":200,"r":4.10,"q":8.70}
]
},
"columns": 3,
"spacing": {"row": 0, "column": 31},
"bounds": "flush",
"concat": [
{"width":388,"height":390,"title":{"text":"m12f"},
 "layer":[
  {"data":{"name":"bands"},"transform":[{"filter":"datum.p=='f'"}],"mark":{"type":"rect","color":"#e3e3e3"},
   "encoding":{"x":{"field":"lo","type":"quantitative","scale":{"type":"log","domain":[0.5,200],"nice":false},"axis":{"orient":"bottom","values":[0.5,0.6,0.7,0.8,0.9,1,2,3,4,5,6,7,8,9,10,20,30,40,50,60,70,80,90,100,200],"tickSize":{"condition":{"test":"datum.value==1||datum.value==10||datum.value==100","value":-8},"value":-4},"labels":false,"title":null}},
    "x2":{"field":"hi"},
    "y":{"datum":3,"type":"quantitative","scale":{"domain":[3,11],"nice":false,"zero":false},"axis":{"orient":"left","values":[4,6,8,10],"tickSize":-7,"labelPadding":17,"labelExpr":"datum.value==10?'10¹⁰':datum.value==8?'10⁸':datum.value==6?'10⁶':'10⁴'","title":"ρ [M⊙ kpc⁻³]","titlePadding":4}},
    "y2":{"datum":11}}},
  {"data":{"name":"lines"},"transform":[{"filter":"datum.p=='f'"}],"mark":{"type":"line","clip":true,"strokeCap":"butt","strokeJoin":"round"},
   "encoding":{"x":{"field":"d","type":"quantitative","scale":{"type":"log","domain":[0.5,200],"nice":false},"axis":{"orient":"top","values":[0.5,0.6,0.7,0.8,0.9,1,2,3,4,5,6,7,8,9,10,20,30,40,50,60,70,80,90,100,200],"tickSize":{"condition":{"test":"datum.value==1||datum.value==10||datum.value==100","value":-8},"value":-4},"labels":false,"title":null}},
    "y":{"field":"r","type":"quantitative","scale":{"domain":[3,11],"nice":false,"zero":false},"axis":{"orient":"right","values":[4,6,8,10],"tickSize":-7,"labels":false,"title":null}},
    "color":{"field":"s","type":"nominal","legend":null,"scale":{"domain":["k-","k2","k--","k-.","k:","gr--","g-","g--","g-.","g:","lg-.","r-","r2","r--","r-.","r:","lr-.","b-","b--","b-.","b:","lb-.","c-","c--","c-."],"range":["#000000","#000000","#000000","#000000","#000000","#8c8c8c","#1ccf1c","#1ccf1c","#1ccf1c","#1ccf1c","#90e090","#f01414","#f01414","#f01414","#f01414","#f01414","#ff8c8c","#1414f0","#1414f0","#1414f0","#1414f0","#8c8cff","#14b4c8","#14b4c8","#14b4c8"]}},
    "strokeDash":{"field":"s","type":"nominal","legend":null,"scale":{"domain":["k-","k2","k--","k-.","k:","gr--","g-","g--","g-.","g:","lg-.","r-","r2","r--","r-.","r:","lr-.","b-","b--","b-.","b:","lb-.","c-","c--","c-."],"range":[[1,0],[1,0],[9,4],[10,4,3,4],[2,3],[9,4],[1,0],[5,3],[7,2.5,2,2.5],[1.5,2.5],[7,2.5,2,2.5],[1,0],[1,0],[5,3],[7,2.5,2,2.5],[1.5,2.5],[7,2.5,2,2.5],[1,0],[5,3],[7,2.5,2,2.5],[1.5,2.5],[7,2.5,2,2.5],[1,0],[5,3],[7,2.5,2,2.5]]}},
    "strokeWidth":{"field":"s","type":"nominal","legend":null,"scale":{"type":"ordinal","domain":["k-","k2","k--","k-.","k:","gr--","g-","g--","g-.","g:","lg-.","r-","r2","r--","r-.","r:","lr-.","b-","b--","b-.","b:","lb-.","c-","c--","c-."],"range":[3.2,3.2,3.2,3.2,3.4,3.2,1.3,1.3,1.3,1.4,1.3,1.3,1.3,1.3,1.3,1.4,1.3,1.3,1.3,1.3,1.4,1.3,1.3,1.3,1.3]}}}}
 ],
 "resolve":{"axis":{"x":"independent","y":"independent"}}},
{"width":388,"height":390,"title":{"text":"m12i"},
 "layer":[
  {"data":{"name":"bands"},"transform":[{"filter":"datum.p=='i'"}],"mark":{"type":"rect","color":"#e3e3e3"},
   "encoding":{"x":{"field":"lo","type":"quantitative","scale":{"type":"log","domain":[0.5,200],"nice":false},"axis":{"orient":"bottom","values":[0.5,0.6,0.7,0.8,0.9,1,2,3,4,5,6,7,8,9,10,20,30,40,50,60,70,80,90,100,200],"tickSize":{"condition":{"test":"datum.value==1||datum.value==10||datum.value==100","value":-8},"value":-4},"labels":false,"title":null}},
    "x2":{"field":"hi"},
    "y":{"datum":3,"type":"quantitative","scale":{"domain":[3,11],"nice":false,"zero":false},"axis":{"orient":"left","values":[4,6,8,10],"tickSize":-7,"labels":false,"title":null}},
    "y2":{"datum":11}}},
  {"data":{"name":"lines"},"transform":[{"filter":"datum.p=='i'"}],"mark":{"type":"line","clip":true,"strokeCap":"butt","strokeJoin":"round"},
   "encoding":{"x":{"field":"d","type":"quantitative","scale":{"type":"log","domain":[0.5,200],"nice":false},"axis":{"orient":"top","values":[0.5,0.6,0.7,0.8,0.9,1,2,3,4,5,6,7,8,9,10,20,30,40,50,60,70,80,90,100,200],"tickSize":{"condition":{"test":"datum.value==1||datum.value==10||datum.value==100","value":-8},"value":-4},"labels":false,"title":null}},
    "y":{"field":"r","type":"quantitative","scale":{"domain":[3,11],"nice":false,"zero":false},"axis":{"orient":"right","values":[4,6,8,10],"tickSize":-7,"labels":false,"title":null}},
    "color":{"field":"s","type":"nominal","legend":null,"scale":{"domain":["k-","k2","k--","k-.","k:","gr--","g-","g--","g-.","g:","lg-.","r-","r2","r--","r-.","r:","lr-.","b-","b--","b-.","b:","lb-.","c-","c--","c-."],"range":["#000000","#000000","#000000","#000000","#000000","#8c8c8c","#1ccf1c","#1ccf1c","#1ccf1c","#1ccf1c","#90e090","#f01414","#f01414","#f01414","#f01414","#f01414","#ff8c8c","#1414f0","#1414f0","#1414f0","#1414f0","#8c8cff","#14b4c8","#14b4c8","#14b4c8"]}},
    "strokeDash":{"field":"s","type":"nominal","legend":null,"scale":{"domain":["k-","k2","k--","k-.","k:","gr--","g-","g--","g-.","g:","lg-.","r-","r2","r--","r-.","r:","lr-.","b-","b--","b-.","b:","lb-.","c-","c--","c-."],"range":[[1,0],[1,0],[9,4],[10,4,3,4],[2,3],[9,4],[1,0],[5,3],[7,2.5,2,2.5],[1.5,2.5],[7,2.5,2,2.5],[1,0],[1,0],[5,3],[7,2.5,2,2.5],[1.5,2.5],[7,2.5,2,2.5],[1,0],[5,3],[7,2.5,2,2.5],[1.5,2.5],[7,2.5,2,2.5],[1,0],[5,3],[7,2.5,2,2.5]]}},
    "strokeWidth":{"field":"s","type":"nominal","legend":null,"scale":{"type":"ordinal","domain":["k-","k2","k--","k-.","k:","gr--","g-","g--","g-.","g:","lg-.","r-","r2","r--","r-.","r:","lr-.","b-","b--","b-.","b:","lb-.","c-","c--","c-."],"range":[3.2,3.2,3.2,3.2,3.4,3.2,1.3,1.3,1.3,1.4,1.3,1.3,1.3,1.3,1.3,1.4,1.3,1.3,1.3,1.3,1.4,1.3,1.3,1.3,1.3]}}}}
 ],
 "resolve":{"axis":{"x":"independent","y":"independent"}}},
{"width":388,"height":390,"title":{"text":"m12m"},
 "layer":[
  {"data":{"name":"bands"},"transform":[{"filter":"datum.p=='m'"}],"mark":{"type":"rect","color":"#e3e3e3"},
   "encoding":{"x":{"field":"lo","type":"quantitative","scale":{"type":"log","domain":[0.5,200],"nice":false},"axis":{"orient":"bottom","values":[0.5,0.6,0.7,0.8,0.9,1,2,3,4,5,6,7,8,9,10,20,30,40,50,60,70,80,90,100,200],"tickSize":{"condition":{"test":"datum.value==1||datum.value==10||datum.value==100","value":-8},"value":-4},"labels":false,"title":null}},
    "x2":{"field":"hi"},
    "y":{"datum":3,"type":"quantitative","scale":{"domain":[3,11],"nice":false,"zero":false},"axis":{"orient":"left","values":[4,6,8,10],"tickSize":-7,"labels":false,"title":null}},
    "y2":{"datum":11}}},
  {"data":{"name":"lines"},"transform":[{"filter":"datum.p=='m'"}],"mark":{"type":"line","clip":true,"strokeCap":"butt","strokeJoin":"round"},
   "encoding":{"x":{"field":"d","type":"quantitative","scale":{"type":"log","domain":[0.5,200],"nice":false},"axis":{"orient":"top","values":[0.5,0.6,0.7,0.8,0.9,1,2,3,4,5,6,7,8,9,10,20,30,40,50,60,70,80,90,100,200],"tickSize":{"condition":{"test":"datum.value==1||datum.value==10||datum.value==100","value":-8},"value":-4},"labels":false,"title":null}},
    "y":{"field":"r","type":"quantitative","scale":{"domain":[3,11],"nice":false,"zero":false},"axis":{"orient":"right","values":[4,6,8,10],"tickSize":-7,"labelPadding":13,"labelExpr":"datum.value==10?'10¹⁰':datum.value==8?'10⁸':datum.value==6?'10⁶':'10⁴'","title":null}},
    "color":{"field":"s","type":"nominal","legend":null,"scale":{"domain":["k-","k2","k--","k-.","k:","gr--","g-","g--","g-.","g:","lg-.","r-","r2","r--","r-.","r:","lr-.","b-","b--","b-.","b:","lb-.","c-","c--","c-."],"range":["#000000","#000000","#000000","#000000","#000000","#8c8c8c","#1ccf1c","#1ccf1c","#1ccf1c","#1ccf1c","#90e090","#f01414","#f01414","#f01414","#f01414","#f01414","#ff8c8c","#1414f0","#1414f0","#1414f0","#1414f0","#8c8cff","#14b4c8","#14b4c8","#14b4c8"]}},
    "strokeDash":{"field":"s","type":"nominal","legend":null,"scale":{"domain":["k-","k2","k--","k-.","k:","gr--","g-","g--","g-.","g:","lg-.","r-","r2","r--","r-.","r:","lr-.","b-","b--","b-.","b:","lb-.","c-","c--","c-."],"range":[[1,0],[1,0],[9,4],[10,4,3,4],[2,3],[9,4],[1,0],[5,3],[7,2.5,2,2.5],[1.5,2.5],[7,2.5,2,2.5],[1,0],[1,0],[5,3],[7,2.5,2,2.5],[1.5,2.5],[7,2.5,2,2.5],[1,0],[5,3],[7,2.5,2,2.5],[1.5,2.5],[7,2.5,2,2.5],[1,0],[5,3],[7,2.5,2,2.5]]}},
    "strokeWidth":{"field":"s","type":"nominal","legend":null,"scale":{"type":"ordinal","domain":["k-","k2","k--","k-.","k:","gr--","g-","g--","g-.","g:","lg-.","r-","r2","r--","r-.","r:","lr-.","b-","b--","b-.","b:","lb-.","c-","c--","c-."],"range":[3.2,3.2,3.2,3.2,3.4,3.2,1.3,1.3,1.3,1.4,1.3,1.3,1.3,1.3,1.3,1.4,1.3,1.3,1.3,1.3,1.4,1.3,1.3,1.3,1.3]}}}}
 ],
 "resolve":{"axis":{"x":"independent","y":"independent"}}},
{"width":388,"height":195,
 "layer":[
  {"data":{"name":"bands"},"transform":[{"filter":"datum.p=='f'"}],"mark":{"type":"rect","color":"#e3e3e3"},
   "encoding":{"x":{"field":"lo","type":"quantitative","scale":{"type":"log","domain":[0.5,200],"nice":false},"axis":{"orient":"bottom","values":[0.5,0.6,0.7,0.8,0.9,1,2,3,4,5,6,7,8,9,10,20,30,40,50,60,70,80,90,100,200],"tickSize":{"condition":{"test":"datum.value==1||datum.value==10||datum.value==100","value":-8},"value":-4},"labelPadding":{"condition":{"test":"datum.value==1||datum.value==10||datum.value==100","value":14},"value":10},"labelFlush":false,"labelOverlap":false,"labelExpr":"indexof([0.5,1,2,5,10,20,50,100,200],datum.value)>=0?format(datum.value,'~g'):''","title":"d  [kpc]","titlePadding":5}},
    "x2":{"field":"hi"},
    "y":{"datum":5,"type":"quantitative","scale":{"domain":[5,10],"nice":false,"zero":false},"axis":{"orient":"left","values":[5,7,9],"tickSize":-7,"labelPadding":17,"labelExpr":"datum.value==9?'10⁹':datum.value==7?'10⁷':'10⁵'","title":"ρd² [M⊙ kpc⁻¹]","titlePadding":4}},
    "y2":{"datum":10}}},
  {"data":{"name":"lines"},"transform":[{"filter":"datum.p=='f'"}],"mark":{"type":"line","clip":true,"strokeCap":"butt","strokeJoin":"round"},
   "encoding":{"x":{"field":"d","type":"quantitative","scale":{"type":"log","domain":[0.5,200],"nice":false},"axis":{"orient":"top","values":[0.5,0.6,0.7,0.8,0.9,1,2,3,4,5,6,7,8,9,10,20,30,40,50,60,70,80,90,100,200],"tickSize":{"condition":{"test":"datum.value==1||datum.value==10||datum.value==100","value":-8},"value":-4},"labels":false,"title":null}},
    "y":{"field":"q","type":"quantitative","scale":{"domain":[5,10],"nice":false,"zero":false},"axis":{"orient":"right","values":[5,7,9],"tickSize":-7,"labels":false,"title":null}},
    "color":{"field":"s","type":"nominal","legend":null,"scale":{"domain":["k-","k2","k--","k-.","k:","gr--","g-","g--","g-.","g:","lg-.","r-","r2","r--","r-.","r:","lr-.","b-","b--","b-.","b:","lb-.","c-","c--","c-."],"range":["#000000","#000000","#000000","#000000","#000000","#8c8c8c","#1ccf1c","#1ccf1c","#1ccf1c","#1ccf1c","#90e090","#f01414","#f01414","#f01414","#f01414","#f01414","#ff8c8c","#1414f0","#1414f0","#1414f0","#1414f0","#8c8cff","#14b4c8","#14b4c8","#14b4c8"]}},
    "strokeDash":{"field":"s","type":"nominal","legend":null,"scale":{"domain":["k-","k2","k--","k-.","k:","gr--","g-","g--","g-.","g:","lg-.","r-","r2","r--","r-.","r:","lr-.","b-","b--","b-.","b:","lb-.","c-","c--","c-."],"range":[[1,0],[1,0],[9,4],[10,4,3,4],[2,3],[9,4],[1,0],[5,3],[7,2.5,2,2.5],[1.5,2.5],[7,2.5,2,2.5],[1,0],[1,0],[5,3],[7,2.5,2,2.5],[1.5,2.5],[7,2.5,2,2.5],[1,0],[5,3],[7,2.5,2,2.5],[1.5,2.5],[7,2.5,2,2.5],[1,0],[5,3],[7,2.5,2,2.5]]}},
    "strokeWidth":{"field":"s","type":"nominal","legend":null,"scale":{"type":"ordinal","domain":["k-","k2","k--","k-.","k:","gr--","g-","g--","g-.","g:","lg-.","r-","r2","r--","r-.","r:","lr-.","b-","b--","b-.","b:","lb-.","c-","c--","c-."],"range":[3.2,3.2,3.2,3.2,3.4,3.2,1.3,1.3,1.3,1.4,1.3,1.3,1.3,1.3,1.3,1.4,1.3,1.3,1.3,1.3,1.4,1.3,1.3,1.3,1.3]}}}}
 ],
 "resolve":{"axis":{"x":"independent","y":"independent"}}},
{"width":388,"height":195,
 "layer":[
  {"data":{"name":"bands"},"transform":[{"filter":"datum.p=='i'"}],"mark":{"type":"rect","color":"#e3e3e3"},
   "encoding":{"x":{"field":"lo","type":"quantitative","scale":{"type":"log","domain":[0.5,200],"nice":false},"axis":{"orient":"bottom","values":[0.5,0.6,0.7,0.8,0.9,1,2,3,4,5,6,7,8,9,10,20,30,40,50,60,70,80,90,100,200],"tickSize":{"condition":{"test":"datum.value==1||datum.value==10||datum.value==100","value":-8},"value":-4},"labelPadding":{"condition":{"test":"datum.value==1||datum.value==10||datum.value==100","value":14},"value":10},"labelFlush":false,"labelOverlap":false,"labelExpr":"indexof([0.5,1,2,5,10,20,50,100,200],datum.value)>=0?format(datum.value,'~g'):''","title":"d  [kpc]","titlePadding":5}},
    "x2":{"field":"hi"},
    "y":{"datum":5,"type":"quantitative","scale":{"domain":[5,10],"nice":false,"zero":false},"axis":{"orient":"left","values":[5,7,9],"tickSize":-7,"labels":false,"title":null}},
    "y2":{"datum":10}}},
  {"data":{"name":"lines"},"transform":[{"filter":"datum.p=='i'"}],"mark":{"type":"line","clip":true,"strokeCap":"butt","strokeJoin":"round"},
   "encoding":{"x":{"field":"d","type":"quantitative","scale":{"type":"log","domain":[0.5,200],"nice":false},"axis":{"orient":"top","values":[0.5,0.6,0.7,0.8,0.9,1,2,3,4,5,6,7,8,9,10,20,30,40,50,60,70,80,90,100,200],"tickSize":{"condition":{"test":"datum.value==1||datum.value==10||datum.value==100","value":-8},"value":-4},"labels":false,"title":null}},
    "y":{"field":"q","type":"quantitative","scale":{"domain":[5,10],"nice":false,"zero":false},"axis":{"orient":"right","values":[5,7,9],"tickSize":-7,"labels":false,"title":null}},
    "color":{"field":"s","type":"nominal","legend":null,"scale":{"domain":["k-","k2","k--","k-.","k:","gr--","g-","g--","g-.","g:","lg-.","r-","r2","r--","r-.","r:","lr-.","b-","b--","b-.","b:","lb-.","c-","c--","c-."],"range":["#000000","#000000","#000000","#000000","#000000","#8c8c8c","#1ccf1c","#1ccf1c","#1ccf1c","#1ccf1c","#90e090","#f01414","#f01414","#f01414","#f01414","#f01414","#ff8c8c","#1414f0","#1414f0","#1414f0","#1414f0","#8c8cff","#14b4c8","#14b4c8","#14b4c8"]}},
    "strokeDash":{"field":"s","type":"nominal","legend":null,"scale":{"domain":["k-","k2","k--","k-.","k:","gr--","g-","g--","g-.","g:","lg-.","r-","r2","r--","r-.","r:","lr-.","b-","b--","b-.","b:","lb-.","c-","c--","c-."],"range":[[1,0],[1,0],[9,4],[10,4,3,4],[2,3],[9,4],[1,0],[5,3],[7,2.5,2,2.5],[1.5,2.5],[7,2.5,2,2.5],[1,0],[1,0],[5,3],[7,2.5,2,2.5],[1.5,2.5],[7,2.5,2,2.5],[1,0],[5,3],[7,2.5,2,2.5],[1.5,2.5],[7,2.5,2,2.5],[1,0],[5,3],[7,2.5,2,2.5]]}},
    "strokeWidth":{"field":"s","type":"nominal","legend":null,"scale":{"type":"ordinal","domain":["k-","k2","k--","k-.","k:","gr--","g-","g--","g-.","g:","lg-.","r-","r2","r--","r-.","r:","lr-.","b-","b--","b-.","b:","lb-.","c-","c--","c-."],"range":[3.2,3.2,3.2,3.2,3.4,3.2,1.3,1.3,1.3,1.4,1.3,1.3,1.3,1.3,1.3,1.4,1.3,1.3,1.3,1.3,1.4,1.3,1.3,1.3,1.3]}}}}
 ],
 "resolve":{"axis":{"x":"independent","y":"independent"}}},
{"width":388,"height":195,
 "layer":[
  {"data":{"name":"bands"},"transform":[{"filter":"datum.p=='m'"}],"mark":{"type":"rect","color":"#e3e3e3"},
   "encoding":{"x":{"field":"lo","type":"quantitative","scale":{"type":"log","domain":[0.5,200],"nice":false},"axis":{"orient":"bottom","values":[0.5,0.6,0.7,0.8,0.9,1,2,3,4,5,6,7,8,9,10,20,30,40,50,60,70,80,90,100,200],"tickSize":{"condition":{"test":"datum.value==1||datum.value==10||datum.value==100","value":-8},"value":-4},"labelPadding":{"condition":{"test":"datum.value==1||datum.value==10||datum.value==100","value":14},"value":10},"labelFlush":false,"labelOverlap":false,"labelExpr":"indexof([0.5,1,2,5,10,20,50,100,200],datum.value)>=0?format(datum.value,'~g'):''","title":"d  [kpc]","titlePadding":5}},
    "x2":{"field":"hi"},
    "y":{"datum":5,"type":"quantitative","scale":{"domain":[5,10],"nice":false,"zero":false},"axis":{"orient":"left","values":[5,7,9],"tickSize":-7,"labels":false,"title":null}},
    "y2":{"datum":10}}},
  {"data":{"name":"lines"},"transform":[{"filter":"datum.p=='m'"}],"mark":{"type":"line","clip":true,"strokeCap":"butt","strokeJoin":"round"},
   "encoding":{"x":{"field":"d","type":"quantitative","scale":{"type":"log","domain":[0.5,200],"nice":false},"axis":{"orient":"top","values":[0.5,0.6,0.7,0.8,0.9,1,2,3,4,5,6,7,8,9,10,20,30,40,50,60,70,80,90,100,200],"tickSize":{"condition":{"test":"datum.value==1||datum.value==10||datum.value==100","value":-8},"value":-4},"labels":false,"title":null}},
    "y":{"field":"q","type":"quantitative","scale":{"domain":[5,10],"nice":false,"zero":false},"axis":{"orient":"right","values":[5,7,9],"tickSize":-7,"labelPadding":13,"labelExpr":"datum.value==9?'10⁹':datum.value==7?'10⁷':'10⁵'","title":null}},
    "color":{"field":"s","type":"nominal","legend":null,"scale":{"domain":["k-","k2","k--","k-.","k:","gr--","g-","g--","g-.","g:","lg-.","r-","r2","r--","r-.","r:","lr-.","b-","b--","b-.","b:","lb-.","c-","c--","c-."],"range":["#000000","#000000","#000000","#000000","#000000","#8c8c8c","#1ccf1c","#1ccf1c","#1ccf1c","#1ccf1c","#90e090","#f01414","#f01414","#f01414","#f01414","#f01414","#ff8c8c","#1414f0","#1414f0","#1414f0","#1414f0","#8c8cff","#14b4c8","#14b4c8","#14b4c8"]}},
    "strokeDash":{"field":"s","type":"nominal","legend":null,"scale":{"domain":["k-","k2","k--","k-.","k:","gr--","g-","g--","g-.","g:","lg-.","r-","r2","r--","r-.","r:","lr-.","b-","b--","b-.","b:","lb-.","c-","c--","c-."],"range":[[1,0],[1,0],[9,4],[10,4,3,4],[2,3],[9,4],[1,0],[5,3],[7,2.5,2,2.5],[1.5,2.5],[7,2.5,2,2.5],[1,0],[1,0],[5,3],[7,2.5,2,2.5],[1.5,2.5],[7,2.5,2,2.5],[1,0],[5,3],[7,2.5,2,2.5],[1.5,2.5],[7,2.5,2,2.5],[1,0],[5,3],[7,2.5,2,2.5]]}},
    "strokeWidth":{"field":"s","type":"nominal","legend":null,"scale":{"type":"ordinal","domain":["k-","k2","k--","k-.","k:","gr--","g-","g--","g-.","g:","lg-.","r-","r2","r--","r-.","r:","lr-.","b-","b--","b-.","b:","lb-.","c-","c--","c-."],"range":[3.2,3.2,3.2,3.2,3.4,3.2,1.3,1.3,1.3,1.4,1.3,1.3,1.3,1.3,1.3,1.4,1.3,1.3,1.3,1.3,1.4,1.3,1.3,1.3,1.3]}}}}
 ],
 "resolve":{"axis":{"x":"independent","y":"independent"}}}
],
"config": {
 "view": {"stroke": null},
 "axis": {"domainColor":"#000000","domainWidth":1.3,"tickColor":"#000000","tickWidth":1,"labelFont":"Liberation Serif","labelFontSize":18,"labelColor":"#222222","titleFont":"Liberation Serif","titleFontSize":19,"titleFontWeight":"normal","titleColor":"#222222","grid":false,"zindex":1},
 "title": {"font":"DejaVu Sans","fontSize":17,"fontWeight":"normal","color":"#000000","offset":13}
}
}
